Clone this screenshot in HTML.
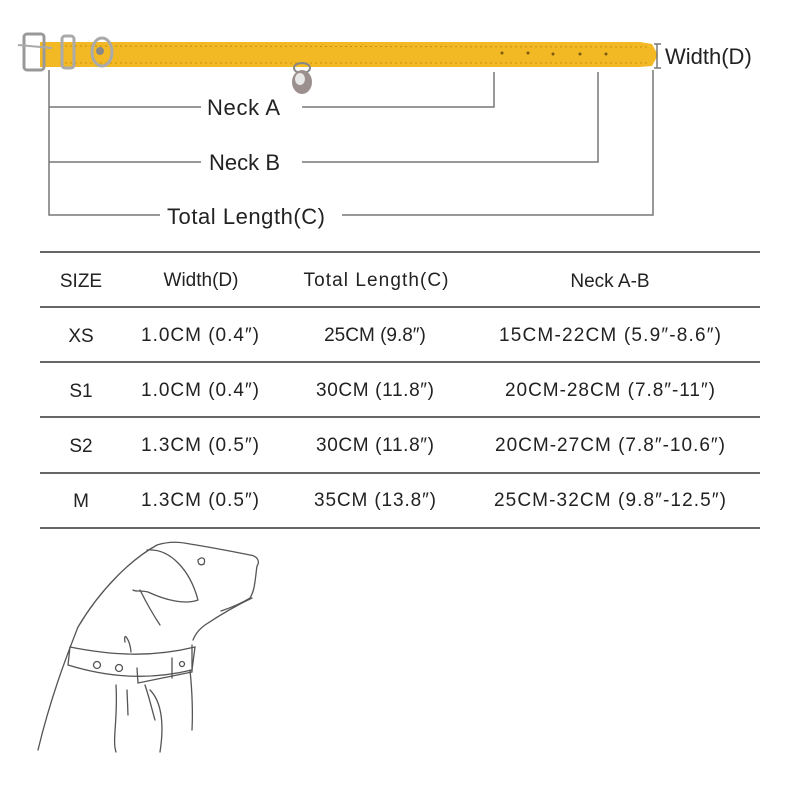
<!DOCTYPE html>
<html><head><meta charset="utf-8"><style>
body{margin:0;background:#fff;}
svg{display:block;}
text{font-family:"Liberation Sans",sans-serif;fill:#222;}
</style></head><body>
<svg width="800" height="800" viewBox="0 0 800 800">
<!-- collar -->
<rect x="40" y="42" width="600" height="25" fill="#f2b925"/>
<path d="M640 42 L652 44 L658 55 L652 66 L640 67 Z" fill="#f2b925"/>
<line x1="60" y1="46" x2="650" y2="47" stroke="#c98e10" stroke-dasharray="2,3" stroke-width="1"/>
<line x1="60" y1="63" x2="650" y2="63" stroke="#c98e10" stroke-dasharray="2,3" stroke-width="1"/>
<rect x="24" y="34" width="20" height="36" rx="3" fill="none" stroke="#999" stroke-width="3"/>
<line x1="18" y1="45" x2="52" y2="48" stroke="#aaa" stroke-width="2"/>
<rect x="62" y="36" width="12" height="32" rx="3" fill="none" stroke="#aaa" stroke-width="3"/>
<ellipse cx="102" cy="52" rx="10" ry="14" fill="none" stroke="#aaa" stroke-width="3"/>
<circle cx="100" cy="51" r="4" fill="#888"/>
<g fill="#7a5a10"><circle cx="502" cy="53" r="1.5"/><circle cx="528" cy="53" r="1.5"/><circle cx="553" cy="54" r="1.5"/><circle cx="580" cy="54" r="1.5"/><circle cx="606" cy="54" r="1.5"/></g>
<ellipse cx="302" cy="68" rx="8" ry="5" fill="none" stroke="#888" stroke-width="2"/>
<ellipse cx="302" cy="82" rx="10" ry="12" fill="#9c8f8f"/>
<ellipse cx="300" cy="79" rx="5" ry="6" fill="#e8e8e8"/>
<g stroke="#777" stroke-width="1.5" fill="none">
<line x1="657" y1="44" x2="657" y2="68"/><line x1="654" y1="44" x2="661" y2="44"/><line x1="654" y1="68" x2="661" y2="68"/>
<polyline points="49,70 49,215 160,215"/>
<line x1="49" y1="107" x2="201" y2="107"/>
<polyline points="302,107 494,107 494,72"/>
<line x1="49" y1="162" x2="201" y2="162"/>
<polyline points="302,162 598,162 598,72"/>
<polyline points="342,215 653,215 653,70"/>
</g>
<text x="665" y="64" font-size="22">Width(D)</text>
<text x="207" y="115" font-size="22" textLength="73">Neck A</text>
<text x="209" y="170" font-size="22" textLength="71">Neck B</text>
<text x="167" y="224" font-size="22" textLength="158">Total Length(C)</text>
<!-- table -->
<g stroke="#333" stroke-width="1.5">
<line x1="40" y1="252" x2="760" y2="252"/><line x1="40" y1="307" x2="760" y2="307"/>
<line x1="40" y1="362" x2="760" y2="362"/><line x1="40" y1="417" x2="760" y2="417"/>
<line x1="40" y1="473" x2="760" y2="473"/><line x1="40" y1="528" x2="760" y2="528"/>
</g>
<g font-size="19" text-anchor="middle">
<text x="81" y="287">SIZE</text><text x="201" y="286">Width(D)</text><text x="376" y="286" textLength="145">Total Length(C)</text><text x="610" y="287">Neck A-B</text>
<text x="81" y="342">XS</text><text x="200" y="341" textLength="118">1.0CM (0.4″)</text><text x="375" y="341">25CM (9.8″)</text><text x="610" y="341" textLength="222">15CM-22CM (5.9″-8.6″)</text>
<text x="81" y="397">S1</text><text x="200" y="396" textLength="118">1.0CM (0.4″)</text><text x="375" y="396" textLength="118">30CM (11.8″)</text><text x="610" y="396" textLength="210">20CM-28CM (7.8″-11″)</text>
<text x="81" y="452">S2</text><text x="200" y="451" textLength="118">1.3CM (0.5″)</text><text x="375" y="451" textLength="118">30CM (11.8″)</text><text x="610" y="451" textLength="230">20CM-27CM (7.8″-10.6″)</text>
<text x="81" y="507">M</text><text x="200" y="506" textLength="118">1.3CM (0.5″)</text><text x="375" y="506" textLength="122">35CM (13.8″)</text><text x="610" y="506" textLength="232">25CM-32CM (9.8″-12.5″)</text>
</g>
<!-- dog -->
<g fill="none" stroke="#555" stroke-width="1.3" stroke-linecap="round">
<path d="M38 750 C50 700 65 660 78 627 C100 590 130 560 157 545 C170 541 180 542 190 544 C215 548 235 552 250 555 C258 556 260 562 257 566 C255 580 255 590 250 598 C240 604 230 608 221 611"/>
<path d="M252 598 C235 606 220 615 205 625 C198 630 195 635 193 640"/>
<path d="M147 550 C170 548 190 570 198 600 C185 605 165 600 148 592 C140 590 135 592 133 590"/>
<path d="M190 670 C192 690 193 710 192 730"/>
<path d="M70 647 C110 655 150 658 195 647 L192 670 C150 680 110 678 68 665 Z"/>
<path d="M137 668 L138 683 L192 672 L192 645"/>
<path d="M172 658 L172 678"/>
<circle cx="97" cy="665" r="3.5"/><circle cx="119" cy="668" r="3.5"/><circle cx="182" cy="664" r="2.5"/>
<path d="M198 560 C202 556 206 558 204 564 C200 566 198 564 198 560"/>
<path d="M125 642 C123 630 130 640 131 652"/>
<path d="M116 685 C118 720 112 740 116 752"/>
<path d="M150 690 C160 700 165 720 160 752"/>
<path d="M145 685 C150 700 152 710 155 720"/>
<path d="M127 690 L128 715"/>
<path d="M140 590 C145 600 150 610 160 625"/>
</g>
</svg>
</body></html>
